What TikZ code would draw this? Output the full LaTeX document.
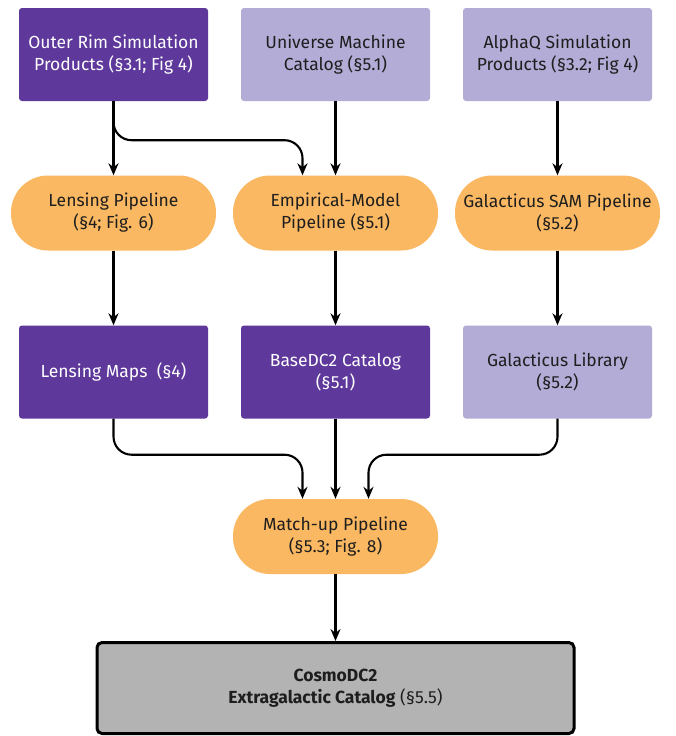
\documentclass[tikz,border=0pt]{standalone}
\usepackage{fontspec}
\setmainfont{Fira Sans}
\usetikzlibrary{arrows.meta}
\definecolor{darkpurple}{RGB}{94,56,155}
\definecolor{lightpurple}{RGB}{178,172,214}
\definecolor{pillorange}{RGB}{251,184,98}
\definecolor{boxgray}{RGB}{179,179,179}
\definecolor{txtdark}{RGB}{30,30,30}
\begin{document}
\begin{tikzpicture}[x=1pt,y=-1pt,
  base/.style={align=center,inner sep=2pt,font=\fontsize{17.5}{22}\selectfont},
  darkbox/.style={base,fill=darkpurple,text=white,rounded corners=3pt,minimum width=189pt,minimum height=93pt},
  lightbox/.style={base,fill=lightpurple,text=txtdark,rounded corners=3pt,minimum width=189pt,minimum height=93pt},
  pill/.style={base,fill=pillorange,text=txtdark,rounded corners=37pt,minimum width=205pt,minimum height=75pt},
  finalbox/.style={base,fill=boxgray,text=txtdark,draw=black,line width=3pt,rounded corners=5pt,minimum width=477pt,minimum height=91pt},
  conn/.style={draw=black,line width=2.1pt,-{Stealth[length=12pt,width=10pt]}},
  curved/.style={conn,rounded corners=18pt}]
\useasboundingbox (0,0) rectangle (675,736);
\fill[white] (0,0) rectangle (675,736);
% row 1
\node[darkbox] (or) at (113.5,54.5) {Outer Rim Simulation\\Products (§3.1; Fig 4)};
\node[lightbox] (um) at (335.5,54.5) {Universe Machine\\Catalog (§5.1)};
\node[lightbox] (aq) at (557.5,54.5) {AlphaQ Simulation\\Products (§3.2; Fig 4)};
% row 2
\node[pill] (lp) at (113.5,213) {Lensing Pipeline\\(§4; Fig. 6)};
\node[pill] (em) at (335.5,213) {Empirical-Model\\Pipeline (§5.1)};
\node[pill] (gp) at (557.5,213) {Galacticus SAM Pipeline\\(§5.2)};
% row 3
\node[darkbox] (lm) at (113.5,372) {Lensing Maps~~(§4)};
\node[darkbox] (bd) at (335.5,372) {BaseDC2 Catalog\\(§5.1)};
\node[lightbox] (gl) at (557.5,372) {Galacticus Library\\(§5.2)};
% match-up
\node[pill] (mu) at (335.5,536.5) {Match-up Pipeline\\(§5.3; Fig. 8)};
% final
\node[finalbox] (cd) at (335.5,688) {\textbf{CosmoDC2}\\\textbf{Extragalactic Catalog} (§5.5)};
% connectors
\draw[conn] (or.south) -- (lp.north);
\draw[curved] (or.south) -- ++(0,39) -| ([xshift=-33pt]em.north);
\draw[conn] (um.south) -- (em.north);
\draw[conn] (aq.south) -- (gp.north);
\draw[conn] (lp.south) -- (lm.north);
\draw[conn] (em.south) -- (bd.north);
\draw[conn] (gp.south) -- (gl.north);
\draw[curved] (lm.south) -- ++(0,36) -| ([xshift=-33pt]mu.north);
\draw[conn] (bd.south) -- (mu.north);
\draw[curved] (gl.south) -- ++(0,36) -| ([xshift=33pt]mu.north);
\draw[conn] (mu.south) -- (cd.north);
\end{tikzpicture}
\end{document}
